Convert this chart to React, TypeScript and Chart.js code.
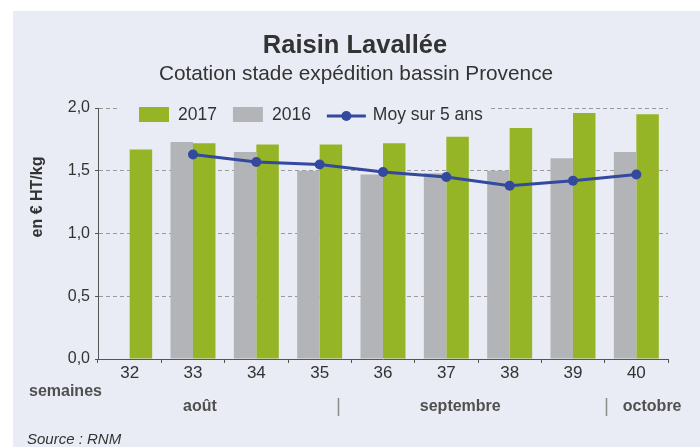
import React, { useEffect, useRef } from 'react';
import { Chart, registerables } from 'chart.js';

Chart.register(...registerables);

// ---- data ----
const weeks = ['32', '33', '34', '35', '36', '37', '38', '39', '40'];
const prices2017 = [1.67, 1.72, 1.71, 1.71, 1.72, 1.77, 1.84, 1.96, 1.95];
const prices2016 = [null, 1.73, 1.65, 1.5, 1.47, 1.48, 1.5, 1.6, 1.65];
const average5y = [null, 1.63, 1.57, 1.55, 1.49, 1.45, 1.38, 1.42, 1.47];
const yTickValues = [0, 0.5, 1.0, 1.5, 2.0];
const months = ['août', 'septembre', 'octobre'];

const titleText = 'Raisin Lavallée';
const subtitleText = 'Cotation stade expédition bassin Provence';
const yAxisTitle = 'en € HT/kg';
const xAxisTitle = 'semaines';
const sourceText = 'Source : RNM';

// ---- styles ----
const FONT = '"Liberation Sans", Arial, Helvetica, sans-serif';
const BG = '#e9ecf4';
const GREEN = '#95b526';
const GRAY = '#b3b4b7';
const BLUE = '#33499d';
const TEXT = '#333333';
const AXIS = '#555555';
const GRID = '#9a9a9a';

// month label centres / separators, in category units (0 = first week)
const monthCenterPos = [1.11, 5.22, 8.25];
const monthBreakPos = [3.29, 7.52];
const legendOrder = [1, 0, 2];

const decorPlugin = {
  id: 'decor',
  beforeDraw(chart: any) {
    const { ctx, width, height } = chart;
    ctx.save();
    ctx.fillStyle = '#ffffff';
    ctx.fillRect(0, 0, width, height);
    ctx.fillStyle = BG;
    ctx.fillRect(13, 11, width - 13, height - 11);
    ctx.fillStyle = TEXT;
    ctx.textAlign = 'center';
    ctx.textBaseline = 'middle';
    ctx.font = `bold 25.5px ${FONT}`;
    ctx.fillText(titleText, 355, 46);
    ctx.font = `20.8px ${FONT}`;
    ctx.fillText(subtitleText, 356, 74);
    ctx.restore();
  },
  afterDraw(chart: any) {
    const { ctx, chartArea } = chart;
    const xs = chart.scales.x;
    const catW = (xs.right - xs.left) / weeks.length;
    const posX = (v: number) => xs.left + (v + 0.5) * catW;
    ctx.save();
    // y axis title
    ctx.save();
    ctx.translate(38, 197);
    ctx.rotate(-Math.PI / 2);
    ctx.font = `bold 16px ${FONT}`;
    ctx.fillStyle = TEXT;
    ctx.textAlign = 'center';
    ctx.textBaseline = 'middle';
    ctx.fillText(yAxisTitle, 0, 0);
    ctx.restore();

    // x axis title
    ctx.font = `bold 16px ${FONT}`;
    ctx.fillStyle = '#505050';
    ctx.textAlign = 'left';
    ctx.textBaseline = 'middle';
    ctx.fillText(xAxisTitle, 29, 392);

    // months
    ctx.textAlign = 'center';
    months.forEach((m, i) => {
      ctx.fillText(m, posX(monthCenterPos[i]), 407);
    });
    ctx.strokeStyle = '#8a8a8a';
    ctx.lineWidth = 1.5;
    monthBreakPos.forEach((b) => {
      const px = Math.round(posX(b)) + 0.5;
      ctx.beginPath();
      ctx.moveTo(px, 398);
      ctx.lineTo(px, 416);
      ctx.stroke();
    });

    // source
    ctx.font = `italic 15px ${FONT}`;
    ctx.fillStyle = TEXT;
    ctx.textAlign = 'left';
    ctx.fillText(sourceText, 27, 440);

    // legend
    const cy = 115;
    let x = chartArea.left + 41;
    ctx.font = `17.5px ${FONT}`;
    const ds = chart.data.datasets;
    let total = 0;
    legendOrder.forEach((i) => {
      const d = ds[i];
      total += (d.type === 'line' ? 46 : 39) + ctx.measureText(d.label).width + 16;
    });
    ctx.fillStyle = BG;
    ctx.fillRect(x - 22, cy - 16, total + 14, 32);
    legendOrder.forEach((i) => {
      const d = ds[i];
      if (d.type === 'line') {
        ctx.strokeStyle = d.borderColor;
        ctx.lineWidth = 3;
        ctx.beginPath();
        ctx.moveTo(x, cy + 1);
        ctx.lineTo(x + 39, cy + 1);
        ctx.stroke();
        ctx.fillStyle = d.borderColor;
        ctx.beginPath();
        ctx.arc(x + 19.5, cy + 1, 5, 0, Math.PI * 2);
        ctx.fill();
        x += 46;
      } else {
        ctx.fillStyle = d.backgroundColor;
        ctx.fillRect(x, cy - 8, 30, 15);
        x += 39;
      }
      ctx.fillStyle = TEXT;
      ctx.textAlign = 'left';
      ctx.textBaseline = 'middle';
      ctx.fillText(d.label, x, cy);
      x += ctx.measureText(d.label).width + 16;
    });
    ctx.restore();
  },
};

export default function App() {
  const ref = useRef<HTMLCanvasElement>(null);
  useEffect(() => {
    const canvas = ref.current!;
    const chart = new Chart(canvas, {
      type: 'bar',
      data: {
        labels: weeks,
        datasets: [
          {
            type: 'bar',
            label: '2016',
            data: prices2016,
            backgroundColor: GRAY,
            categoryPercentage: 0.71,
            barPercentage: 1,
            order: 2,
          },
          {
            type: 'bar',
            label: '2017',
            data: prices2017,
            backgroundColor: GREEN,
            categoryPercentage: 0.71,
            barPercentage: 1,
            order: 2,
          },
          {
            type: 'line',
            label: 'Moy sur 5 ans',
            data: average5y,
            borderColor: BLUE,
            backgroundColor: BLUE,
            borderWidth: 3,
            pointRadius: 5,
            pointBackgroundColor: BLUE,
            pointBorderWidth: 0,
            tension: 0,
            order: 1,
          },
        ] as any,
      },
      options: {
        responsive: false,
        animation: false,
        devicePixelRatio: 1,
        layout: { padding: { left: 13, top: 108, right: 32, bottom: 0 } },
        plugins: {
          legend: { display: false },
          tooltip: { enabled: false },
          title: { display: false },
        },
        scales: {
          x: {
            afterFit: (s: any) => {
              s.height = 88;
            },
            grid: {
              offset: true,
              drawOnChartArea: false,
              drawTicks: true,
              tickLength: 4,
              color: AXIS,
              tickColor: AXIS,
            },
            border: { color: AXIS, width: 1 },
            ticks: {
              color: TEXT,
              padding: 0,
              font: { family: FONT, size: 17 },
              maxRotation: 0,
            },
          },
          y: {
            min: 0,
            max: 2,
            afterFit: (s: any) => {
              s.width = 85;
            },
            afterBuildTicks: (s: any) => {
              s.ticks = yTickValues.map((v) => ({ value: v }));
            },
            grid: {
              color: (c: any) => (c.tick && c.tick.value === 0 ? 'rgba(0,0,0,0)' : GRID),
              tickColor: AXIS,
              tickLength: 3,
              lineWidth: 1,
              tickBorderDash: [],
            },
            border: { color: AXIS, width: 1, dash: [4, 3] },
            ticks: {
              color: TEXT,
              padding: 5,
              font: { family: FONT, size: 16 },
              callback: (v: any) => Number(v).toFixed(1).replace('.', ','),
            },
          },
        },
      },
      plugins: [decorPlugin],
    } as any);
    return () => chart.destroy();
  }, []);
  return (
    <div style={{ position: 'absolute', left: 0, top: 0, width: 700, height: 447, background: '#fff' }}>
      <canvas ref={ref} width={700} height={447} style={{ display: 'block' }} />
    </div>
  );
}
